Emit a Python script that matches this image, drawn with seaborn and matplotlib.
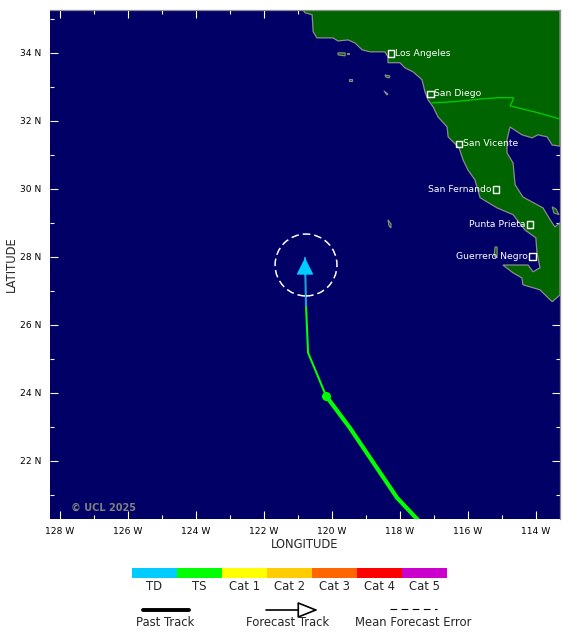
#!/usr/bin/env python3
"""
Storm track forecast map
"""

import numpy as np
import matplotlib
matplotlib.use('Agg')
import matplotlib.pyplot as plt
from matplotlib.colors import ListedColormap
from matplotlib.patches import Circle
import seaborn as sns

sns.set_style('white')

OCEAN = '#000066'
LAND = '#006400'
COAST = '#8c8c8c'
GREEN = '#00ff00'

# Coast of California / Baja, lon and lat
land_lon = [-120.84, -120.78, -120.57, -120.54, -120.43, -119.96, -119.81, -119.51, -119.31, -119.10,
            -118.87, -118.43, -118.34, -118.34, -117.99, -117.84, -117.60, -117.34, -117.25, -117.16,
            -117.01, -116.87, -116.60, -116.57, -116.25, -116.13, -115.99, -115.78, -115.63, -115.13,
            -114.66, -114.31, -113.99, -113.96, -113.87, -114.07, -114.22, -114.96, -114.66, -114.40,
            -114.37, -113.87, -113.51, -113.28, -113.28, -113.43, -113.57, -113.78, -114.37, -114.60,
            -114.66, -114.84, -114.84, -114.75, -114.40, -114.10, -113.93, -113.66, -113.51, -113.31,
            -113.28, -113.28]
land_lat = [35.26, 35.18, 35.12, 34.62, 34.44, 34.44, 34.35, 34.38, 34.29, 34.09,
            34.03, 34.03, 33.88, 33.71, 33.71, 33.56, 33.44, 33.21, 32.85, 32.62,
            32.41, 32.12, 31.82, 31.53, 31.21, 30.85, 30.56, 30.26, 29.74, 29.44,
            29.24, 28.79, 28.56, 28.15, 27.68, 27.56, 27.76, 27.76, 27.53, 27.38,
            27.18, 27.03, 26.68, 26.88, 29.00, 28.88, 29.09, 29.44, 29.76, 30.12,
            30.76, 31.06, 31.44, 31.82, 31.59, 31.50, 31.59, 31.53, 31.29, 31.26,
            31.26, 35.26]

islands = [
    ([-119.81, -119.60, -119.60, -119.81], [34.00, 34.00, 33.91, 33.94]),
    ([-119.54, -119.48, -119.48, -119.54], [34.00, 34.00, 33.97, 33.97]),
    ([-119.49, -119.40, -119.40, -119.49], [33.24, 33.24, 33.18, 33.18]),
    ([-118.43, -118.28, -118.31, -118.40], [33.35, 33.32, 33.26, 33.29]),
    ([-118.46, -118.34, -118.37], [32.88, 32.79, 32.76]),
    ([-118.34, -118.25, -118.25, -118.31], [29.09, 28.97, 28.85, 28.91]),
    ([-115.19, -115.13, -115.13, -115.22], [28.29, 28.29, 27.97, 28.03]),
    ([-113.51, -113.40, -113.31, -113.46], [29.47, 29.41, 29.24, 29.29]),
]

border_lon = [-117.04, -116.43, -115.54, -115.10, -114.66, -114.66, -114.75, -113.93, -113.31]
border_lat = [32.53, 32.56, 32.65, 32.68, 32.68, 32.62, 32.44, 32.24, 32.06]

# Cities
right_cities = ['Los Angeles', 'San Diego', 'San Vicente']
right_lon = [-118.25, -117.10, -116.25]
right_lat = [33.97, 32.79, 31.32]
left_cities = ['San Fernando', 'Punta Prieta', 'Guerrero Negro']
left_lon = [-115.16, -114.16, -114.10]
left_lat = [29.97, 28.94, 28.00]

# Track
past_lon = [-120.16, -119.46, -118.07, -117.40]
past_lat = [23.91, 22.97, 20.91, 20.20]
forecast_lon = [-120.16, -120.69, -120.75]
forecast_lat = [23.91, 25.18, 26.56]
td_lon = [-120.75, -120.78]
td_lat = [26.56, 27.97]
error_center = (-120.75, 27.76)
error_radius = 0.91

# Ticks
lon_ticks = [-128, -126, -124, -122, -120, -118, -116, -114]
lon_labels = ['128 W', '126 W', '124 W', '122 W', '120 W', '118 W', '116 W', '114 W']
lat_ticks = [22, 24, 26, 28, 30, 32, 34]
lat_labels = ['22 N', '24 N', '26 N', '28 N', '30 N', '32 N', '34 N']

# Intensity scale
cat_labels = ['TD', 'TS', 'Cat 1', 'Cat 2', 'Cat 3', 'Cat 4', 'Cat 5']
cat_colors = ['#00ccff', '#00ff00', '#ffff00', '#ffcc00', '#ff6600', '#ff0000', '#cc00cc']

W, H = 580, 638
fig = plt.figure(figsize=(W / 100, H / 100), dpi=100)

# ============================================================================
# Map
# ============================================================================
ax = fig.add_axes([50 / W, 1 - 519 / H, 510 / W, 509 / H])
ax.set_facecolor(OCEAN)

ax.fill(land_lon, land_lat, facecolor=LAND, edgecolor=COAST, linewidth=0.9)
for lons, lats in islands:
    ax.fill(lons, lats, facecolor=LAND, edgecolor=COAST, linewidth=0.8)

sns.lineplot(x=border_lon, y=border_lat, sort=False, estimator=None, color='#00c800', linewidth=1.0, ax=ax)

sns.lineplot(x=past_lon, y=past_lat, sort=False, estimator=None, color=GREEN, linewidth=3.0, ax=ax)
sns.lineplot(x=forecast_lon, y=forecast_lat, sort=False, estimator=None, color=GREEN, linewidth=1.5, ax=ax)
sns.lineplot(x=td_lon, y=td_lat, sort=False, estimator=None, color='#1f9fe0', linewidth=1.5, ax=ax)
sns.scatterplot(x=past_lon[:1], y=past_lat[:1], color=GREEN, s=42, linewidth=0, zorder=5, ax=ax)

ax.annotate('', xy=(td_lon[-1], td_lat[-1]), xytext=(td_lon[-1], td_lat[-1] - 0.5),
            arrowprops=dict(arrowstyle='-|>,head_length=0.75,head_width=0.38', color='#00ccff',
                            linewidth=1, mutation_scale=14, shrinkA=0, shrinkB=0), zorder=6)

ax.add_patch(Circle(error_center, error_radius, fill=False, edgecolor='white',
                    linewidth=1.1, linestyle=(0, (5, 2.6)), zorder=6))

for lons, lats in [(right_lon, right_lat), (left_lon, left_lat)]:
    sns.scatterplot(x=lons, y=lats, marker='s', s=24, facecolor='none', edgecolor='white',
                    linewidth=1.0, zorder=7, ax=ax)
for name, lon, lat in zip(right_cities, right_lon, right_lat):
    ax.text(lon + 0.12, lat + 0.02, name, color='white', fontsize=6.7, ha='left', va='center', zorder=8)
for name, lon, lat in zip(left_cities, left_lon, left_lat):
    ax.text(lon - 0.12, lat + 0.02, name, color='white', fontsize=6.7, ha='right', va='center', zorder=8)

ax.text(-127.65, 20.63, '\u00a9 UCL 2025', color='#808080', fontsize=7, weight='bold', ha='left', va='center')

ax.set_xlim(-128.28, -113.28)
ax.set_ylim(20.29, 35.26)
ax.set_xticks(lon_ticks)
ax.set_xticklabels(lon_labels, fontsize=6.6)
ax.set_yticks(lat_ticks)
ax.set_yticklabels(lat_labels, fontsize=6.6)
ax.set_xticks(np.arange(-127, -113, 2), minor=True)
ax.set_yticks(np.arange(21, 36, 2), minor=True)
ax.tick_params(which='major', direction='in', length=5.8, width=0.8, color='white',
               top=True, right=True, bottom=True, left=True, pad=6, labelcolor='black')
ax.tick_params(which='minor', direction='in', length=3, width=0.8, color='white',
               top=True, right=True, bottom=True, left=True)
ax.set_xlabel('LONGITUDE', fontsize=8.3, labelpad=1.5)
ax.set_ylabel('LATITUDE', fontsize=8.3, labelpad=2)
for side in ['left', 'bottom']:
    ax.spines[side].set_visible(False)
for side in ['top', 'right']:
    ax.spines[side].set_color(COAST)
    ax.spines[side].set_linewidth(0.9)

# ============================================================================
# Intensity scale
# ============================================================================
ax_scale = fig.add_axes([132 / W, 1 - 578 / H, 315 / W, 10 / H])
sns.heatmap(np.arange(len(cat_labels)).reshape(1, -1), cmap=ListedColormap(cat_colors), cbar=False,
            xticklabels=cat_labels, yticklabels=False, ax=ax_scale)
ax_scale.tick_params(axis='x', length=0, pad=1.5, labelsize=8.4, rotation=0)

# ============================================================================
# Track legend (overlay in pixel coordinates)
# ============================================================================
ax_leg = fig.add_axes([0, 0, 1, 1], facecolor='none')
ax_leg.set_xlim(0, W)
ax_leg.set_ylim(H, 0)
ax_leg.axis('off')

ax_leg.plot([143, 189], [610, 610], color='black', linewidth=2.8, solid_capstyle='round')
ax_leg.annotate('', xy=(318, 610), xytext=(266, 610),
                arrowprops=dict(arrowstyle='-|>,head_length=0.9,head_width=0.36', facecolor='white',
                                edgecolor='black', linewidth=1.2, mutation_scale=14, shrinkA=0, shrinkB=0))
ax_leg.plot([390, 437], [609, 609], color='black', linewidth=0.8, linestyle=(0, (6, 4)))

ax_leg.text(165, 622, 'Past Track', fontsize=8.4, ha='center', va='center')
ax_leg.text(288, 622, 'Forecast Track', fontsize=8.4, ha='center', va='center')
ax_leg.text(413, 622, 'Mean Forecast Error', fontsize=8.4, ha='center', va='center')

plt.savefig('out.png', dpi=100)
plt.close()
